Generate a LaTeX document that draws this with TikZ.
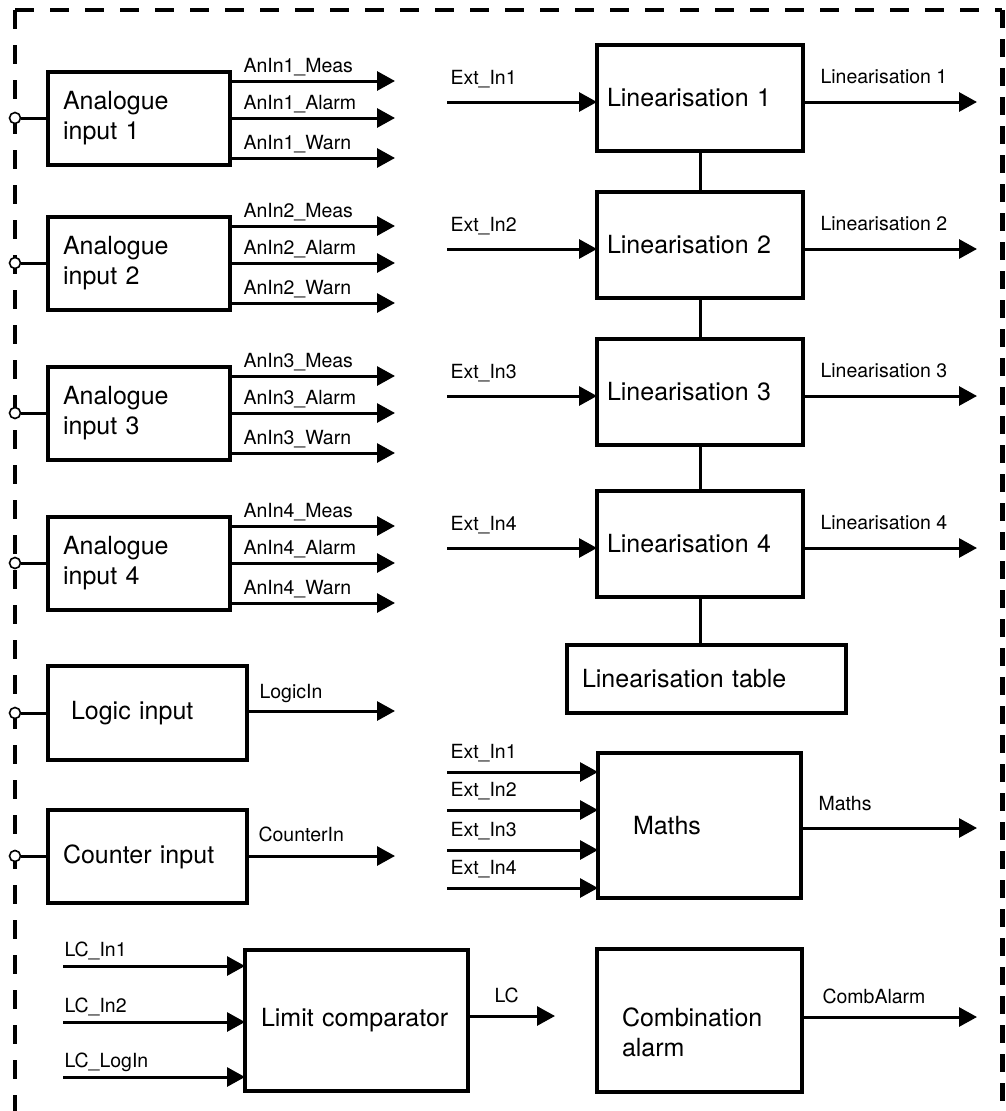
\documentclass[tikz,border=0pt]{standalone}
\usepackage{fontspec}
\setmainfont{TeX Gyre Heros}
\usepackage{tikz}
\usetikzlibrary{arrows.meta}

\newcommand{\boxfont}{\fontsize{25}{30}\selectfont}
\newcommand{\lblfont}{\fontsize{19.5}{23}\selectfont}

\tikzstyle{blk} = [rectangle, draw=black, line width=3.2pt, anchor=north west, align=left, outer sep=0pt, inner ysep=0pt, font=\boxfont]
\tikzstyle{jack} = [circle, draw=black, fill=white, line width=1.6pt, minimum size=11pt, inner sep=0pt]
\tikzstyle{arrow} = [line width=3pt, -{Triangle[length=18pt, width=19pt]}]
\tikzstyle{wire} = [line width=3pt]
\tikzstyle{lbl} = [anchor=base west, inner sep=0pt, font=\lblfont]
\tikzstyle{dashframe} = [line width=4.5pt, dash pattern=on 19pt off 16pt]

\begin{document}
\begin{tikzpicture}[x=1pt, y=-1pt]
\useasboundingbox (0,0) rectangle (1005,1111);

% dashed frame
\draw [dashframe] (15,10) -- (1002,10);
\draw [dashframe] (15,10) -- (15,1111);
\draw [dashframe, line width=5pt, dash pattern=on 18pt off 11pt] (1002,10) -- (1002,1111);

% analogue inputs
\foreach \i/\ty in {1/72, 2/217, 3/367, 4/517} {
  \node (an\i) [blk, minimum width=182pt, minimum height=93pt, text width=152pt, inner xsep=15pt] at (48,\ty) {Analogue\\input \i};
  \node (jan\i) [jack] at (15,\ty+46) {};
  \draw [wire] (jan\i) -- (jan\i -| an\i.west);
  \coordinate (meas\i) at (395,\ty+9);
  \coordinate (alarm\i) at (395,\ty+46);
  \coordinate (warn\i) at (395,\ty+86);
  \draw [arrow] (an\i.east |- meas\i) node [lbl, xshift=12pt, yshift=9pt] {AnIn\i\_Meas} -- (meas\i);
  \draw [arrow] (an\i.east |- alarm\i) node [lbl, xshift=12pt, yshift=9pt] {AnIn\i\_Alarm} -- (alarm\i);
  \draw [arrow] (an\i.east |- warn\i) node [lbl, xshift=12pt, yshift=9pt] {AnIn\i\_Warn} -- (warn\i);
}

% logic and counter inputs
\node (logic) [blk, minimum width=199pt, minimum height=94pt, text width=153pt, inner xsep=23pt] at (48,666) {Logic input};
\node (jlogic) [jack] at (15,713) {};
\draw [wire] (jlogic) -- (jlogic -| logic.west);
\coordinate (logicout) at (395,711);
\draw [arrow] (logicout -| logic.east) node [lbl, xshift=11pt, yshift=13pt] {LogicIn} -- (logicout);

\node (counter) [blk, minimum width=199pt, minimum height=93pt, text width=169pt, inner xsep=15pt] at (48,810) {Counter input};
\node (jcounter) [jack] at (15,856) {};
\draw [wire] (jcounter) -- (jcounter -| counter.west);
\coordinate (counterout) at (395,856);
\draw [arrow] (counterout -| counter.east) node [lbl, xshift=10pt, yshift=15pt] {CounterIn} -- (counterout);

% linearisation
\foreach \i/\ty in {1/45, 2/192, 3/339, 4/491} {
  \node (lin\i) [blk, minimum width=204pt, minimum height=106pt, text width=186pt, inner xsep=10pt] at (597,\ty) {Linearisation \i};
  \coordinate (ext\i) at (447,\ty+57);
  \coordinate (linout\i) at (977,\ty+57);
  \draw [arrow] (ext\i) node [lbl, xshift=2pt, yshift=18pt] {Ext\_In\i} -- (ext\i -| lin\i.west);
  \draw [arrow] (linout\i -| lin\i.east) node [lbl, xshift=16pt, yshift=19pt] {Linearisation \i} -- (linout\i);
}
\draw [wire] (lin1) -- (lin2);
\draw [wire] (lin2) -- (lin3);
\draw [wire] (lin3) -- (lin4);
\node (lintab) [blk, minimum width=279pt, minimum height=68pt, text width=249pt, inner xsep=15pt] at (567,645) {Linearisation table};
\draw [wire] (lin4.south) -- (lin4.south |- lintab.north);

% maths
\node (maths) [blk, minimum width=203pt, minimum height=145pt, text width=133pt, inner xsep=35pt] at (598,753) {Maths};
\foreach \i/\ty in {1/772, 2/810, 3/850, 4/888} {
  \coordinate (mext\i) at (447,\ty);
  \draw [arrow] (mext\i) node [lbl, xshift=2pt, yshift=14pt] {Ext\_In\i} -- (mext\i -| maths.west);
}
\coordinate (mathsout) at (977,828);
\draw [arrow] (mathsout -| maths.east) node [lbl, xshift=16pt, yshift=18pt] {Maths} -- (mathsout);

% limit comparator
\node (limit) [blk, minimum width=223pt, minimum height=141pt, text width=191pt, inner xsep=16pt] at (245,950) {Limit comparator};
\foreach \i/\ty/\txt in {1/966/LC\_In1, 2/1022/LC\_In2, 3/1077/LC\_LogIn} {
  \coordinate (lcin\i) at (63,\ty);
  \draw [arrow] (lcin\i) node [lbl, yshift=10pt] {\txt} -- (lcin\i -| limit.west);
}
\coordinate (lcout) at (555,1016);
\draw [arrow] (lcout -| limit.east) node [lbl, xshift=25pt, yshift=14pt] {LC} -- (lcout);

% combination alarm
\node (comb) [blk, minimum width=205pt, minimum height=143pt, text width=155pt, inner xsep=25pt] at (597,949) {\rule{0pt}{43pt}Combination\\alarm};
\coordinate (combout) at (977,1017);
\draw [arrow] (combout -| comb.east) node [lbl, xshift=19pt, yshift=14pt] {CombAlarm} -- (combout);

\end{tikzpicture}
\end{document}
